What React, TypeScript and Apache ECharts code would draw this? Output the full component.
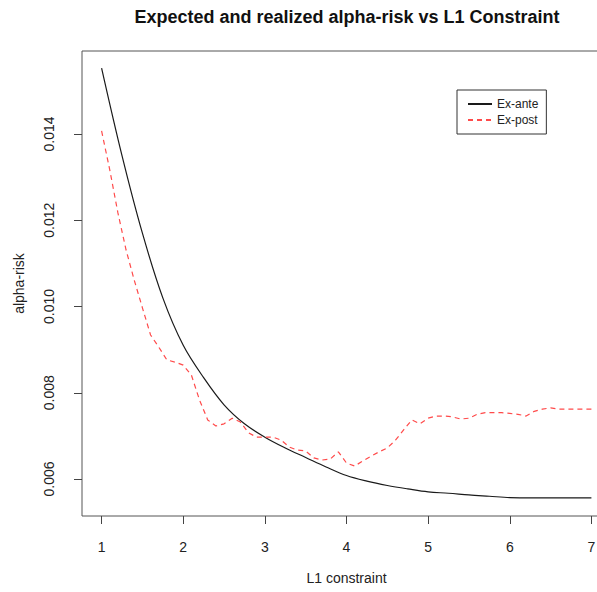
import React, { useEffect, useRef } from "react";
import * as echarts from "echarts";

const titleText = "Expected and realized alpha-risk vs L1 Constraint";
const xName = "L1 constraint";
const yName = "alpha-risk";
const seriesNames = ["Ex-ante", "Ex-post"];

const xTicks = [1, 2, 3, 4, 5, 6, 7];
const yTicks = [0.006, 0.008, 0.01, 0.012, 0.014];

const xAnte = [1.0, 1.25, 1.5, 1.75, 2.0, 2.25, 2.5, 2.75, 3.0, 3.25, 3.5, 3.75, 4.0, 4.25, 4.5, 4.75, 5.0, 5.25, 5.5, 5.75, 6.0, 6.25, 6.5, 6.75, 7.0];
const exAnte = [0.01553, 0.0135, 0.0117, 0.0102, 0.0091, 0.00835, 0.00772, 0.00728, 0.00697, 0.00672, 0.0065, 0.00628, 0.00608, 0.00595, 0.00585, 0.00577, 0.0057, 0.00567, 0.00563, 0.0056, 0.00557, 0.00556, 0.00556, 0.00556, 0.00556];

const xPost = [1.0, 1.1, 1.2, 1.3, 1.4, 1.5, 1.6, 1.7, 1.8, 1.9, 2.0, 2.1, 2.2, 2.3, 2.4, 2.5, 2.6, 2.7, 2.8, 2.9, 3.0, 3.1, 3.2, 3.3, 3.4, 3.5, 3.6, 3.7, 3.8, 3.9, 4.0, 4.1, 4.2, 4.3, 4.4, 4.5, 4.6, 4.7, 4.8, 4.9, 5.0, 5.1, 5.2, 5.3, 5.4, 5.5, 5.6, 5.7, 5.8, 5.9, 6.0, 6.1, 6.2, 6.3, 6.4, 6.5, 6.6, 6.7, 6.8, 6.9, 7.0];
const exPost = [0.01407, 0.01317, 0.01217, 0.01131, 0.01061, 0.00997, 0.00934, 0.00906, 0.00876, 0.00871, 0.00864, 0.00841, 0.00783, 0.00737, 0.00723, 0.00728, 0.00741, 0.00732, 0.00707, 0.00697, 0.00697, 0.00697, 0.0069, 0.00674, 0.00667, 0.00665, 0.00649, 0.00644, 0.00646, 0.00663, 0.00637, 0.0063, 0.00642, 0.00653, 0.00663, 0.00672, 0.0069, 0.00714, 0.00737, 0.00728, 0.00741, 0.00746, 0.00746, 0.00744, 0.00739, 0.00741, 0.0075, 0.00754, 0.00754, 0.00754, 0.00752, 0.0075, 0.00746, 0.00757, 0.00762, 0.00765, 0.00762, 0.00762, 0.00762, 0.00762, 0.00762];

const FONT = "Liberation Sans, Arial, sans-serif";

export default function App() {
  const ref = useRef<HTMLDivElement>(null);
  useEffect(() => {
    if (!ref.current) return;
    const chart = echarts.init(ref.current, undefined, { renderer: "svg" });
    chart.setOption({
      animation: false,
      backgroundColor: "#ffffff",
      title: {
        text: titleText,
        left: 342,
        top: 3,
        textAlign: "center",
        textStyle: { fontFamily: FONT, fontSize: 18, fontWeight: "bold", color: "#111" },
      },
      legend: {
        orient: "vertical",
        left: 457,
        top: 90,
        padding: [8, 8, 8, 10],
        itemGap: 4,
        itemWidth: 24,
        itemHeight: 10,
        borderColor: "#333",
        borderWidth: 1,
        data: seriesNames,
        itemStyle: { opacity: 0 },
        textStyle: { fontFamily: FONT, fontSize: 12, color: "#222" },
      },
      grid: {
        left: 82,
        top: 51,
        width: 529,
        height: 465,
        outerBoundsMode: "none",
        show: true,
        borderColor: "#555",
        borderWidth: 1,
        backgroundColor: "transparent",
      },
      xAxis: {
        type: "value",
        min: 0.76,
        max: 7.24,
        name: xName,
        nameLocation: "middle",
        nameGap: 55,
        nameTextStyle: { fontFamily: FONT, fontSize: 14, color: "#222" },
        axisLine: { show: false },
        splitLine: { show: false },
        axisTick: { show: true, length: 8, customValues: xTicks, lineStyle: { color: "#444" } },
        axisLabel: {
          customValues: xTicks,
          margin: 24,
          fontFamily: FONT,
          fontSize: 14,
          color: "#222",
          formatter: (v: number) => String(v),
        },
      },
      yAxis: {
        type: "value",
        min: 0.005142,
        max: 0.015925,
        name: yName,
        nameLocation: "middle",
        nameGap: 56,
        nameTextStyle: { fontFamily: FONT, fontSize: 14, color: "#222" },
        axisLine: { show: false },
        splitLine: { show: false },
        axisTick: { show: true, length: 8, customValues: yTicks, lineStyle: { color: "#444" } },
        axisLabel: {
          customValues: yTicks,
          rotate: 90,
          margin: 26,
          fontFamily: FONT,
          fontSize: 14,
          color: "#222",
          formatter: (v: number) => v.toFixed(3),
        },
      },
      series: [
        {
          name: seriesNames[0],
          type: "line",
          symbol: "none",
          showSymbol: false,
          smooth: 0.35,
          data: xAnte.map((x, i) => [x, exAnte[i]]),
          lineStyle: { color: "#1a1a1a", width: 1.2, type: "solid" },
          itemStyle: { color: "#1a1a1a" },
        },
        {
          name: seriesNames[1],
          type: "line",
          symbol: "none",
          showSymbol: false,
          data: xPost.map((x, i) => [x, exPost[i]]),
          lineStyle: { color: "#ff4a4a", width: 1.2, type: [5, 4] },
          itemStyle: { color: "#ff4a4a" },
        },
      ],
    });
    return () => chart.dispose();
  }, []);
  return (
    <div
      ref={ref}
      style={{ position: "fixed", left: 0, top: 0, width: 597, height: 592, background: "#fff" }}
    />
  );
}
